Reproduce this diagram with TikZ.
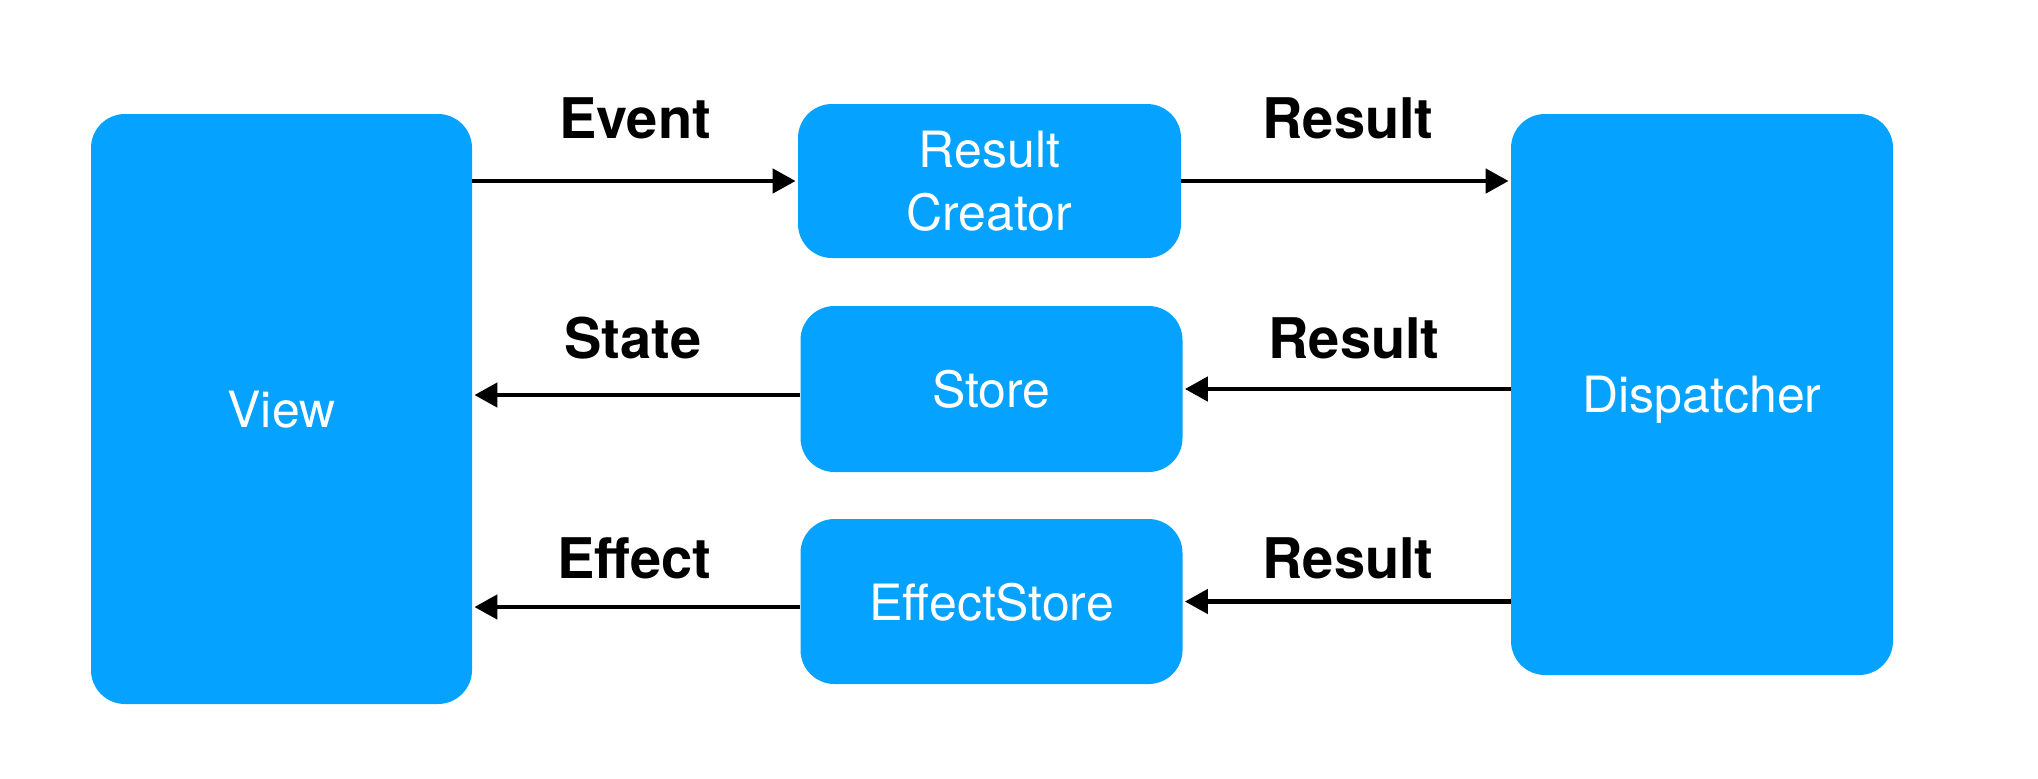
\documentclass[tikz,border=0pt]{standalone}
\usepackage{fontspec}
\setmainfont{TeX Gyre Heros}
\usetikzlibrary{arrows.meta,calc}
\definecolor{boxblue}{RGB}{5,162,255}
\tikzset{
  blk/.style={draw=none,fill=boxblue,rounded corners=17pt,inner sep=0pt,
    text=white,align=center,text depth=0pt,
    font=\fontsize{25pt}{31.5pt}\selectfont},
  lbl/.style={anchor=base,inner sep=0pt,text=black,
    font=\fontsize{28pt}{32pt}\selectfont\bfseries},
  arr/.style={line width=2.35pt,-{Triangle[length=11.5pt,width=12pt]},shorten >=1pt}
}
\begin{document}
\begin{tikzpicture}[x=0.5pt,y=-0.5pt]
\useasboundingbox (0,0) rectangle (2038,778);
\node[blk,minimum width=190.5pt,minimum height=295pt] (view) at (281.5,409) {View};
\node[blk,minimum width=191.5pt,minimum height=77pt] (rc) at (989.5,181) {Result\\Creator};
\node[blk,minimum width=191pt,minimum height=83pt] (store) at (991.5,389) {Store};
\node[blk,minimum width=191pt,minimum height=82.5pt] (estore) at (991.5,601.5) {EffectStore};
\node[blk,minimum width=191pt,minimum height=280.5pt] (disp) at (1702,394.5) {Dispatcher};

\draw[arr] (view.east |- rc.west) -- (rc.west);
\draw[arr] (rc.east) -- (rc.east -| disp.west);
\draw[arr] ($(store.west)+(0,6)$) coordinate (s1) -- (s1 -| view.east);
\draw[arr] ($(estore.west)+(0,5.5)$) coordinate (e1) -- (e1 -| view.east);
\draw[arr] (disp.west |- store.east) -- (store.east);
\draw[arr] (disp.west |- estore.east) -- (estore.east);

\node[lbl] (levent) at (635,138) {Event};
\node[lbl] (lstate) at (633,358) {State};
\node[lbl] (leffect) at (634,578) {Effect};
\node[lbl] (lres1) at (1348,138) {Result};
\node[lbl] (lres2) at (1354,358) {Result};
\node[lbl] (lres3) at (1348,578) {Result};
\end{tikzpicture}
\end{document}
